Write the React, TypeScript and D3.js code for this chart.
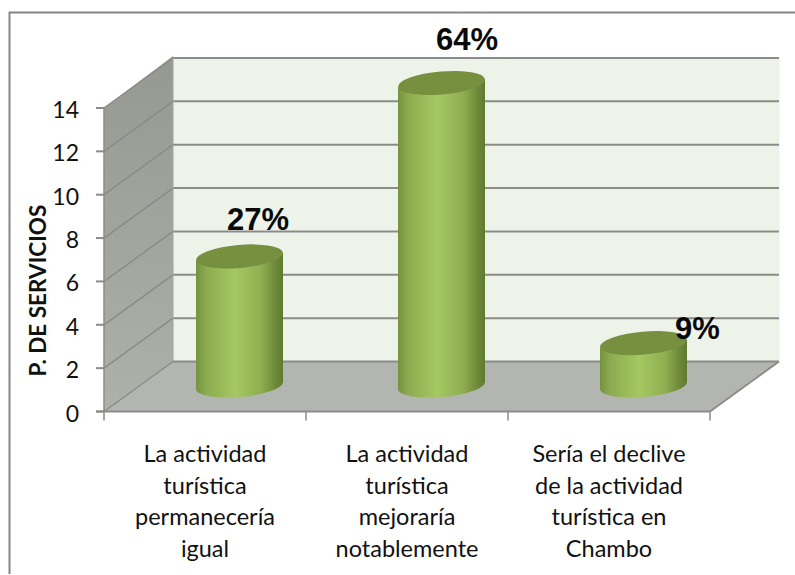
import React from "react";
import * as d3 from "d3";

const categories = [
  ["La actividad", "turística", "permanecería", "igual"],
  ["La actividad", "turística", "mejoraría", "notablemente"],
  ["Sería el declive", "de la actividad", "turística en", "Chambo"],
];
const values = [6, 14, 2];
const percents = ["27%", "64%", "9%"];
const ticks = [0, 2, 4, 6, 8, 10, 12, 14];
const yTitle = "P. DE SERVICIOS";

const W = 795, H = 575;
const X0 = 104, X1 = 710, Y0 = 411.5, Y14 = 108;
const DX = 69, DY = -50;
const GRID = "#8b8c8a";
const body = "Lato, Carlito, 'Open Sans', sans-serif";

export default function App() {
  const y = d3.scaleLinear().domain([0, 14]).range([Y0, Y14]);
  const x = d3.scaleBand<number>().domain([0, 1, 2]).range([X0, X1]);
  const rx = 43.5, ry = 11.5, tilt = -5, lean = 4;
  const labelPos = [
    [258, 230],
    [467, 50],
    [697.5, 339],
  ];
  return (
    <svg width={W} height={H} style={{ position: "fixed", left: 0, top: 0 }}>
      <defs>
        <linearGradient id="cyl" x1="0" x2="1" y1="0" y2="0">
          <stop offset="0" stopColor="#75933f" />
          <stop offset="0.12" stopColor="#8dab50" />
          <stop offset="0.45" stopColor="#a5c862" />
          <stop offset="0.75" stopColor="#8fae50" />
          <stop offset="0.92" stopColor="#6c8838" />
          <stop offset="1" stopColor="#5f7a30" />
        </linearGradient>
        <linearGradient id="side" x1="0" x2="0" y1="0" y2="1">
          <stop offset="0" stopColor="#969892" />
          <stop offset="1" stopColor="#aeb0aa" />
        </linearGradient>
      </defs>
      <rect width={W} height={H} fill="#fff" />
      <path d={`M9.5 574V12.5H${W}`} fill="none" stroke="#868686" strokeWidth={2} />

      {/* walls */}
      <rect x={X0 + DX} y={y(14) + DY + 1} width={X1 - X0 + 0.5} height={y(0) - y(14)} fill="#eef3ea" />
      <polygon
        points={`${X0},${y(14)} ${X0 + DX},${y(14) + DY - 2} ${X0 + DX},${y(0) + DY} ${X0},${y(0)}`}
        fill="url(#side)"
      />
      <polygon
        points={`${X0},${y(0)} ${X0 + DX},${y(0) + DY} ${X1 + DX},${y(0) + DY} ${X1},${y(0)}`}
        fill="#b3b5b0"
      />
      {ticks.map((t) => (
        <g key={t} fill="none" stroke={GRID}>
          {t > 0 && (
            <line x1={X0 + DX} x2={X1 + DX} y1={y(t) + DY} y2={y(t) + DY} strokeWidth={2} />
          )}
          <line x1={X0} x2={X0 + DX} y1={y(t)} y2={y(t) + DY} strokeWidth={1.5} />
        </g>
      ))}
      <line x1={X0 + DX} x2={X0 + DX} y1={y(14) + DY} y2={y(0) + DY} stroke="#a3a59f" strokeWidth={1} />
      <line x1={X0 + DX} x2={X1 + DX} y1={y(0) + DY} y2={y(0) + DY} stroke={GRID} strokeWidth={2} />
      <line x1={X1} x2={X1 + DX} y1={y(0)} y2={y(0) + DY} stroke={GRID} strokeWidth={2} />

      {/* axes */}
      <line x1={X0} x2={X0} y1={y(14)} y2={y(0)} stroke={GRID} strokeWidth={1.5} />
      <line x1={X0 - 8} x2={X1} y1={y(0)} y2={y(0)} stroke={GRID} strokeWidth={2} />
      {ticks.map((t) => (
        <g key={t}>
          <line x1={X0 - 8} x2={X0} y1={y(t)} y2={y(t)} stroke={GRID} strokeWidth={2} />
          <text x={79} y={y(t) + 10} textAnchor="end" fontFamily={body} fontSize={23} fill="#111">
            {t}
          </text>
        </g>
      ))}
      {[0, 1, 2, 3].map((i) => {
        const px = X0 + ((X1 - X0) * i) / 3;
        return <line key={i} x1={px} x2={px} y1={y(0)} y2={y(0) + 9} stroke={GRID} strokeWidth={1.5} />;
      })}

      {/* bars */}
      {values.map((v, i) => {
        const cx = x(i)! + x.bandwidth() / 2 + DX / 2;
        const yb = y(0) + DY / 2 - 1;
        const yt = y(v) + DY / 2;
        const d = `M${cx - rx} ${yt + lean}L${cx - rx} ${yb + lean}A${rx} ${ry} ${tilt} 0 0 ${cx + rx} ${yb - lean}L${cx + rx} ${yt - lean}Z`;
        return (
          <g key={i}>
            <path d={d} fill="url(#cyl)" />
            <ellipse cx={cx} cy={yt} rx={rx} ry={ry} transform={`rotate(${tilt} ${cx} ${yt})`} fill="#76903f" />
          </g>
        );
      })}

      {/* value labels */}
      {percents.map((p, i) => (
        <text
          key={p}
          x={labelPos[i][0]}
          y={labelPos[i][1]}
          textAnchor="middle"
          fontFamily="'Liberation Sans', Arial, sans-serif"
          fontWeight={700}
          fontSize={31}
          fill="#0a0a0a"
        >
          {p}
        </text>
      ))}

      {/* category labels */}
      {categories.map((lines, i) => (
        <text key={i} textAnchor="middle" fontFamily={body} fontSize={23.5} fill="#111">
          {lines.map((l, j) => (
            <tspan key={j} x={x(i)! + x.bandwidth() / 2} y={462 + j * 31.5}>
              {l}
            </tspan>
          ))}
        </text>
      ))}

      <text
        transform="translate(46,290.5) rotate(-90)"
        textAnchor="middle"
        fontFamily={body}
        fontWeight={700}
        fontSize={22.5}
        fill="#111"
      >
        {yTitle}
      </text>
    </svg>
  );
}
